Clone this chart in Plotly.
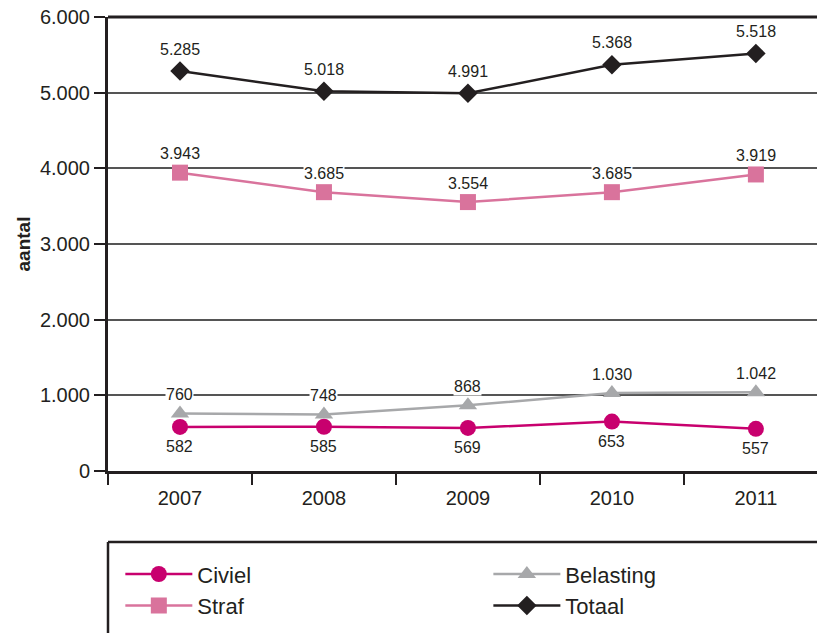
import plotly.graph_objects as go

years = ["2007", "2008", "2009", "2010", "2011"]
civiel = [582, 585, 569, 653, 557]
belasting = [760, 748, 868, 1030, 1042]
straf = [3943, 3685, 3554, 3685, 3919]
totaal = [5285, 5018, 4991, 5368, 5518]

series = [
    ("Civiel", civiel, "#c8006e", "circle", "legend", -20),
    ("Belasting", belasting, "#a7a8aa", "triangle-up", "legend2", 19),
    ("Straf", straf, "#d9739c", "square", "legend", 19),
    ("Totaal", totaal, "#231f20", "diamond", "legend2", 22),
]

def fmt(v):
    return f"{v:,}".replace(",", ".")

fig = go.Figure()
annotations = []
for name, vals, color, sym, leg, shift in series:
    fig.add_trace(go.Scatter(
        x=years, y=vals, name=name, mode="lines+markers",
        line=dict(color=color, width=2.5),
        marker=dict(symbol=sym, size=16 if sym != "diamond" else 15, color=color),
        legend=leg,
    ))
    for i, v in enumerate(vals):
        annotations.append(dict(
            x=i, y=v, xref="x", yref="y", text=fmt(v), showarrow=False, yshift=shift,
            font=dict(size=16, color="#231f20"), bgcolor="white",
            borderpad=0,
        ))

FONT = "Liberation Sans, Arial, sans-serif"
legend_style = dict(
    orientation="v", yanchor="top", xanchor="left", y=-0.181,
    font=dict(size=22, color="#231f20"),
    bgcolor="rgba(0,0,0,0)", itemwidth=67, traceorder="normal",
)

fig.update_layout(
    width=817, height=625,
    margin=dict(l=100, r=0, t=9, b=162, autoexpand=False),
    paper_bgcolor="white", plot_bgcolor="white",
    separators=",.",
    font=dict(family=FONT, color="#231f20"),
    annotations=annotations,
    showlegend=True,
    legend=dict(x=0.0172, **legend_style),
    legend2=dict(x=0.5305, **legend_style),
    xaxis=dict(
        type="category", range=[-0.5, 4.48], automargin=False,
        showline=True, linecolor="#231f20", linewidth=3,
        ticks="outside", tickson="boundaries", ticklen=11, tickwidth=1.5,
        tickcolor="#231f20", showgrid=False, ticklabelstandoff=7,
        tickfont=dict(size=20, color="#231f20"),
    ),
    yaxis=dict(
        range=[0, 6000], dtick=1000, tickformat=",d", automargin=False,
        showline=True, linecolor="#231f20", linewidth=3,
        ticks="outside", ticklen=11, tickwidth=1.5, tickcolor="#231f20",
        showgrid=True, gridcolor="#555555", gridwidth=1.5,
        zeroline=False, ticklabeloverflow="allow",
        tickfont=dict(size=20, color="#231f20"),
        title=dict(text="<b>aantal</b>", font=dict(size=19, color="#231f20"), standoff=5),
    ),
    shapes=[
        dict(type="line", xref="paper", yref="paper", x0=0, x1=1.01, y0=1, y1=1,
             line=dict(color="#231f20", width=3)),
        dict(type="line", xref="paper", yref="paper", x0=0, x1=1.01,
             y0=-0.1564, y1=-0.1564, line=dict(color="#231f20", width=2.5)),
        dict(type="line", xref="paper", yref="paper", x0=0, x1=0,
             y0=-0.1564, y1=-0.4, line=dict(color="#231f20", width=2.5)),
    ],
)

fig.write_html("out.html")
